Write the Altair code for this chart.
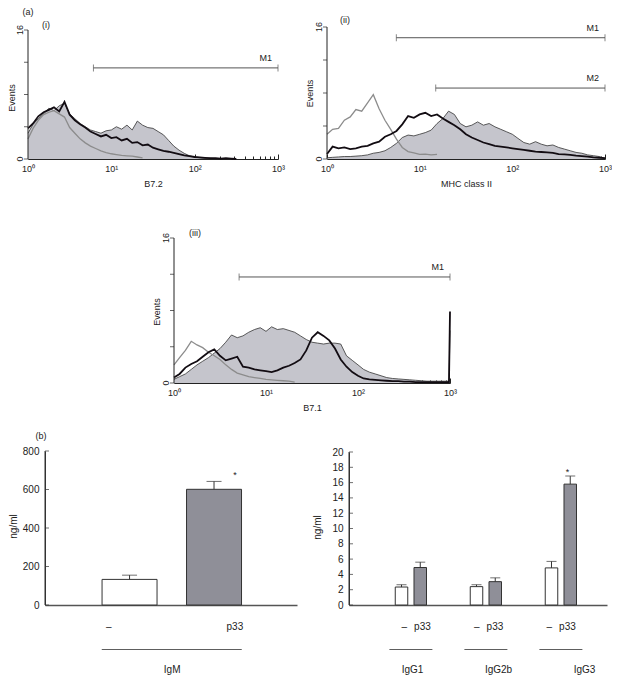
import altair as alt
import pandas as pd

FONT = "Liberation Sans"
INK = "#222222"
FILL_C = "#c5c5cc"
OUTLINE_C = "#333333"
GRAY_C = "#8c8c8c"
BLACK_C = "#120c12"
BAR_GRAY = "#8f8f98"

# ---------------- histogram data (fluorescence intensity bins, events) ----------------
HIST_X = [1.0, 1.15, 1.33, 1.54, 1.78, 2.05, 2.37, 2.74, 3.16, 3.65, 4.22, 4.87, 5.62, 6.49, 7.5, 8.66,
          10, 11.5, 13.3, 15.4, 17.8, 20.5, 23.7, 27.4, 31.6, 36.5, 42.2, 48.7, 56.2, 64.9, 75, 86.6,
          100, 115, 133, 154, 178, 205, 237, 274, 316, 365, 422, 487, 562, 649, 750, 866, 1000]
HIST_X_III = HIST_X[:48] + [975, 1000]

MAJOR = [1, 10, 100, 1000]
MINOR = [2, 3, 4, 5, 6, 7, 8, 9, 20, 30, 40, 50, 60, 70, 80, 90, 200, 300, 400, 500, 600, 700, 800, 900]
HIST_YTICKS = [0, 4, 8, 12, 16]
HIST_YLABEL_VALUES = [0, 16]
HIST_YLABELS = ["0", "16"]

# (i) B7.2
I_FILL = [3.2, 4.3, 5.0, 5.6, 6.3, 6.0, 6.6, 6.9, 5.6, 5.0, 4.4, 4.0, 3.6, 3.4, 3.2, 3.5, 3.6, 4.0, 3.7, 4.2,
          3.6, 4.7, 4.2, 3.9, 3.8, 3.4, 3.0, 2.3, 1.6, 1.1, 0.7, 0.4, 0.25, 0.15, 0.1, 0.08, 0.05, 0.05, 0.03, 0.0]
I_BLACK = [3.8, 4.4, 5.3, 5.8, 6.1, 6.4, 5.9, 7.1, 5.5, 4.8, 4.3, 3.9, 3.4, 3.1, 2.8, 3.0, 2.6, 2.7, 2.3, 2.5,
           2.0, 2.1, 1.7, 1.8, 1.4, 1.2, 1.0, 0.9, 0.75, 0.6, 0.45, 0.35, 0.25, 0.2, 0.15, 0.1, 0.1, 0.05, 0.1, 0.05, 0.0]
I_GRAY = [2.5, 3.8, 4.8, 5.5, 5.8, 6.0, 5.6, 5.2, 3.9, 3.2, 2.5, 2.0, 1.6, 1.3, 1.0, 0.8, 0.65, 0.55, 0.45, 0.4,
          0.35, 0.25, 0.15]

# (ii) MHC class II
II_FILL = [0.15, 0.2, 0.25, 0.3, 0.3, 0.35, 0.4, 0.5, 0.7, 0.8, 1.0, 1.4, 1.9, 2.6, 2.9, 2.8, 3.0, 3.2, 3.5, 4.3,
           4.9, 5.8, 5.4, 4.3, 3.9, 4.1, 4.5, 4.1, 4.3, 3.9, 3.6, 3.3, 3.0, 2.5, 2.0, 1.8, 2.1, 1.8, 1.6, 1.7,
           1.4, 1.2, 1.0, 0.8, 0.7, 0.5, 0.4, 0.3, 0.05]
II_BLACK = [0.6, 1.5, 1.3, 1.4, 1.2, 1.3, 1.5, 1.6, 1.9, 2.1, 2.7, 3.0, 3.4, 4.2, 5.2, 5.0, 5.4, 5.6, 5.2, 5.4,
            4.9, 4.5, 4.1, 3.6, 3.0, 2.6, 2.3, 2.0, 1.8, 1.6, 1.5, 1.4, 1.3, 1.2, 1.1, 1.0, 0.9, 0.85, 0.8, 0.75,
            0.6, 0.55, 0.5, 0.4, 0.35, 0.3, 0.2, 0.15, 0.1]
II_GRAY = [3.0, 3.6, 3.7, 4.7, 5.1, 6.0, 5.8, 6.8, 7.8, 6.1, 4.7, 3.6, 2.4, 1.4, 0.9, 0.75, 0.55, 0.6, 0.5, 0.55]

# (iii) B7.1
III_FILL = [0.4, 0.7, 1.0, 1.5, 2.0, 2.4, 2.8, 3.3, 3.8, 4.5, 5.3, 5.0, 5.2, 5.6, 5.9, 6.1, 5.7, 6.2, 5.9, 6.0,
            5.8, 5.6, 5.2, 4.8, 4.5, 4.4, 4.3, 4.4, 4.4, 4.3, 3.0, 2.5, 2.0, 1.5, 1.2, 1.0, 0.8, 0.6, 0.5, 0.45,
            0.4, 0.35, 0.3, 0.25, 0.2, 0.2, 0.2, 0.2, 0.2, 5.8]
III_BLACK = [0.6, 1.0, 1.7, 2.1, 2.4, 2.9, 3.4, 3.7, 3.0, 2.5, 2.7, 2.9, 1.8, 1.7, 1.5, 1.4, 1.3, 1.2, 1.4, 1.7,
             1.9, 2.2, 2.6, 3.6, 5.0, 5.6, 5.2, 4.7, 3.8, 2.6, 1.8, 1.2, 0.8, 0.5, 0.4, 0.35, 0.3, 0.25, 0.2, 0.2,
             0.15, 0.15, 0.1, 0.1, 0.1, 0.1, 0.1, 0.1, 0.1, 7.9]
III_GRAY = [2.0, 2.8, 3.6, 4.6, 4.2, 3.9, 3.4, 3.0, 2.6, 2.0, 1.5, 1.1, 0.9, 0.7, 0.6, 0.5, 0.4, 0.35, 0.3, 0.25,
            0.2, 0.1]

# marker gates
MK_END = 1000
I_MK = (["M1"], [6.1], [11.3])
II_MK = (["M1", "M2"], [5.6, 14.9], [14.7, 8.6])
III_MK = (["M1"], [5.1], [11.7])

# ---------------- bar data ----------------
IGM_TREAT = ["–", "p33"]
IGM_MEAN = [133, 601]
IGM_ERR = [155, 642]
IGM_SIG = [False, True]

IGG_GROUPS = ["IgG1", "IgG2b", "IgG3"]
IGG_CTRL_MEAN = [2.35, 2.4, 4.85]
IGG_CTRL_ERR = [2.65, 2.65, 5.7]
IGG_P33_MEAN = [4.9, 3.05, 15.8]
IGG_P33_ERR = [5.6, 3.55, 16.85]
IGG_SIG = [False, False, True]

SUP_EXPR = ("datum.value == 1 ? '10\u2070' : datum.value == 10 ? '10\u00b9' : "
            "datum.value == 100 ? '10\u00b2' : '10\u00b3'")


def curve(xs, ys):
    return pd.DataFrame({"fl": xs[:len(ys)], "ev": ys})


def one(txt):
    return pd.DataFrame({"t": [txt]})


def hist_panel(xs, fill, black, gray, mk, xtitle, W, H, xr, yr, t_dx, t_dy, tags):
    xsc = alt.Scale(type="log", domain=[1, 1000], range=xr, nice=False)
    ysc = alt.Scale(domain=[0, 16], range=yr, nice=False)
    xoff = yr[0] - H
    ax_main = alt.Axis(orient="bottom", offset=xoff, values=MAJOR, labelExpr=SUP_EXPR,
                       ticks=False, tickSize=0, labelPadding=5, labelFlush=False, labelOverlap=False,
                       labelFont=FONT, labelFontSize=9, labelColor=INK, domainColor=INK, domainWidth=1,
                       grid=False, title=xtitle, titleFont=FONT, titleFontSize=9, titleFontWeight="normal",
                       titleColor=INK, titleY=24, titleBaseline="middle")
    ax_major = alt.Axis(orient="bottom", offset=xoff - 5, values=MAJOR, domain=False, labels=False,
                        tickSize=5, tickColor=INK, tickWidth=1, grid=False, title=None)
    ax_minor = alt.Axis(orient="bottom", offset=xoff - 3, values=MINOR, domain=False, labels=False,
                        tickSize=3, tickColor=INK, tickWidth=1, grid=False, title=None)

    def Y(f):
        return alt.Y(f, scale=ysc, axis=None)

    xd = alt.XDatum(1, type="quantitative", scale=xsc, axis=None)

    df_fill, df_black, df_gray = curve(xs, fill), curve(xs, black), curve(xs, gray)
    area = alt.Chart(df_fill).mark_area(color=FILL_C, opacity=1).encode(
        x=alt.X("fl:Q", scale=xsc, axis=ax_main), y=Y("ev:Q"))
    outline = alt.Chart(df_fill).mark_line(color=OUTLINE_C, strokeWidth=0.8).encode(
        x=alt.X("fl:Q", scale=xsc, axis=ax_major), y=Y("ev:Q"))
    gline = alt.Chart(df_gray).mark_line(color=GRAY_C, strokeWidth=1.3).encode(
        x=alt.X("fl:Q", scale=xsc, axis=ax_minor), y=Y("ev:Q"))
    bline = alt.Chart(df_black).mark_line(color=BLACK_C, strokeWidth=1.8).encode(
        x=alt.X("fl:Q", scale=xsc, axis=None), y=Y("ev:Q"))

    # y axis built from marks on the same scales
    ydom = alt.Chart(one("")).mark_rule(color=INK, strokeWidth=1).encode(
        x=xd, y=alt.YDatum(0, type="quantitative", scale=ysc, axis=None), y2=alt.Y2Datum(16))
    yticks = alt.Chart(pd.DataFrame({"v": HIST_YTICKS})).mark_tick(
        orient="horizontal", size=4, thickness=1, color=INK, xOffset=-2).encode(x=xd, y=Y("v:Q"))
    ylabs = alt.Chart(pd.DataFrame({"v": HIST_YLABEL_VALUES, "t": HIST_YLABELS})).mark_text(
        angle=270, align="center", baseline="alphabetic", xOffset=-5.5, font=FONT, fontSize=9,
        color=INK).encode(x=xd, y=Y("v:Q"), text="t:N")
    ytitle = alt.Chart(one("Events")).mark_text(
        angle=270, align="center", baseline="middle", xOffset=t_dx, yOffset=t_dy, font=FONT, fontSize=9,
        color=INK).encode(x=xd, y=alt.YDatum(8, type="quantitative", scale=ysc, axis=None), text="t:N")

    mdf = pd.DataFrame({"label": mk[0], "x1": mk[1], "x2": [MK_END] * len(mk[0]), "y": mk[2]})
    base = alt.Chart(mdf)
    rule = base.mark_rule(color="#555555", strokeWidth=1).encode(
        x=alt.X("x1:Q", scale=xsc, axis=None), x2="x2:Q", y=Y("y:Q"))
    ends = base.transform_fold(["x1", "x2"], as_=["end", "xe"]).mark_tick(
        orient="vertical", size=7, thickness=1, color="#555555").encode(
        x=alt.X("xe:Q", scale=xsc, axis=None), y=Y("y:Q"))
    mlab = base.mark_text(align="right", baseline="middle", dx=-6, dy=-10, font=FONT, fontSize=9,
                          color=INK).encode(
        x=alt.X("x2:Q", scale=xsc, axis=None), y=Y("y:Q"), text="label:N")

    layers = [area, outline, gline, bline, ydom, yticks, ylabs, ytitle, rule, ends, mlab]
    for txt, dx, dy in tags:
        layers.append(alt.Chart(one(txt)).mark_text(
            dx=dx, dy=dy, align="center", baseline="middle", font=FONT, fontSize=9, color=INK).encode(
            x=xd, y=alt.YDatum(16, type="quantitative", scale=ysc, axis=None), text="t:N"))
    return alt.layer(*layers).resolve_axis(x="independent").properties(width=W, height=H)


def bar_panel(df, sub_domain, sub_p, groups, grp_p, W, H, xr, yr, ymax, yvals, tx, ty,
              cap, ul, star_dy, tag=None):
    sub_sc = alt.Scale(domain=sub_domain, range=sub_p[3], paddingInner=sub_p[0], paddingOuter=sub_p[1],
                       align=sub_p[2])
    grp_sc = alt.Scale(domain=groups, range=xr, paddingInner=0, paddingOuter=grp_p[0], align=grp_p[1])
    frame_sc = alt.Scale(domain=[0, 1], range=xr, nice=False, zero=False)
    ysc = alt.Scale(domain=[0, ymax], range=yr, nice=False)
    ax_x = alt.Axis(orient="bottom", offset=yr[0] - H, domain=True, domainColor="#555555",
                    domainWidth=1.3, ticks=False, labels=False, title=None, grid=False)
    ay_main = alt.Axis(orient="left", offset=-xr[0], values=yvals, ticks=False, tickSize=0,
                       labelPadding=6, labelFont=FONT, labelFontSize=10, labelColor=INK,
                       domainColor="#333333", domainWidth=1, grid=False,
                       title="ng/ml", titleX=tx, titleY=ty, titleAngle=270, titleAlign="center",
                       titleBaseline="middle", titleFont=FONT, titleFontSize=10, titleFontWeight="normal",
                       titleColor=INK)

    xs = lambda: alt.X("sub:N", scale=sub_sc, axis=None)
    xf = alt.XDatum(0, type="quantitative", scale=frame_sc, axis=None)
    bars = alt.Chart(df).mark_bar(stroke="#333333", strokeWidth=1).encode(
        x=xs(), y=alt.Y("val:Q", scale=ysc, axis=ay_main),
        fill=alt.Fill("treat:N", scale=alt.Scale(domain=IGM_TREAT, range=["#ffffff", BAR_GRAY]),
                      legend=None))
    ydom = alt.Chart(one("")).mark_rule(color="#333333", strokeWidth=1).encode(
        x=xf, y=alt.YDatum(0, type="quantitative", scale=ysc, axis=None), y2=alt.Y2Datum(ymax))
    yticks = alt.Chart(pd.DataFrame({"v": yvals})).mark_tick(
        orient="horizontal", size=4, thickness=1, color="#333333", xOffset=2).encode(
        x=xf, y=alt.Y("v:Q", scale=ysc, axis=None))
    err = alt.Chart(df).mark_rule(color="#333333", strokeWidth=1).encode(
        x=xs(), y=alt.Y("val:Q", scale=ysc, axis=None), y2="err:Q")
    caps = alt.Chart(df).mark_tick(orient="horizontal", size=cap, thickness=1, color="#333333").encode(
        x=xs(), y=alt.Y("err:Q", scale=ysc, axis=None))
    stars = alt.Chart(df).transform_filter("datum.sig").mark_text(
        text="*", font=FONT, fontSize=9, dy=star_dy, baseline="middle", color=INK).encode(
        x=xs(), y=alt.Y("err:Q", scale=ysc, axis=None))
    tlab = alt.Chart(df).mark_text(dy=22, baseline="middle", font=FONT, fontSize=10, color=INK).encode(
        x=xs(), y=alt.YDatum(0, type="quantitative", scale=ysc, axis=None), text="treat:N")
    gdf = pd.DataFrame({"grp": groups})
    ulines = alt.Chart(gdf).mark_tick(orient="horizontal", size=ul, thickness=1.1, color="#1a1a1a",
                                      yOffset=44.5).encode(
        x=alt.X("grp:N", scale=grp_sc, axis=ax_x),
        y=alt.YDatum(0, type="quantitative", scale=ysc, axis=None))
    glab = alt.Chart(gdf).mark_text(dy=65, baseline="middle", font=FONT, fontSize=10, color=INK).encode(
        x=alt.X("grp:N", scale=grp_sc, axis=None),
        y=alt.YDatum(0, type="quantitative", scale=ysc, axis=None), text="grp:N")
    layers = [ulines, bars, ydom, yticks, err, caps, stars, tlab, glab]
    if tag is not None:
        txt, cat, dx, dy = tag
        layers.append(alt.Chart(one(txt)).mark_text(
            dx=dx, dy=dy, align="center", baseline="middle", font=FONT, fontSize=9, color=INK).encode(
            x=alt.XDatum(cat, type="nominal", scale=sub_sc, axis=None),
            y=alt.YDatum(ymax, type="quantitative", scale=ysc, axis=None), text="t:N"))
    return (alt.layer(*layers)
            .resolve_scale(x="independent")
            .resolve_axis(x="independent", y="independent")
            .properties(width=W, height=H))


# ---------------- panels ----------------
p1 = hist_panel(HIST_X, I_FILL, I_BLACK, I_GRAY, I_MK, "B7.2", 300, 190, [20, 270], [151, 22], -16, 3.5,
                [("(a)", 0, -18), ("(i)", 18, -5)])
p2 = hist_panel(HIST_X, II_FILL, II_BLACK, II_GRAY, II_MK, "MHC class II", 304, 190, [19, 297], [151, 19],
                -17, 0.5, [("(ii)", 18, -7)])
p3 = hist_panel(HIST_X_III, III_FILL, III_BLACK, III_GRAY, III_MK, "B7.1", 604, 220, [166, 442], [185, 40],
                -17, 1.5, [("(iii)", 21, -5.5)])

igm = pd.DataFrame({"sub": IGM_TREAT, "treat": IGM_TREAT, "val": IGM_MEAN, "err": IGM_ERR, "sig": IGM_SIG})
rows = []
for g, cm, ce, pm, pe, s in zip(IGG_GROUPS, IGG_CTRL_MEAN, IGG_CTRL_ERR, IGG_P33_MEAN, IGG_P33_ERR, IGG_SIG):
    rows.append({"sub": g + " –", "treat": "–", "val": cm, "err": ce, "sig": False})
    rows.append({"sub": g + " p33", "treat": "p33", "val": pm, "err": pe, "sig": s})
igg = pd.DataFrame(rows)
SUB_R = []
for i, g in enumerate(IGG_GROUPS):
    SUB_R += [g + " –", g + " p33"]
    if i < len(IGG_GROUPS) - 1:
        SUB_R += ["gap%da" % i, "gap%db" % i]

b1 = bar_panel(igm, IGM_TREAT, (0.349, 0.666, 0.507, [37, 289]), ["IgM"], (1.0, 0.5045), 305, 260,
               [37, 289], [187, 33], 800, [0, 200, 400, 600, 800], -32, 108, 15, 140, -6,
               tag=("(b)", "–", -68, -15))
b2 = bar_panel(igg, SUB_R, (0.3333, 0.0, 0.5, [82.25, 263.5]), IGG_GROUPS, (0.22, 0.739), 299, 260,
               [36, 294], [187, 34], 20, list(range(0, 21, 2)), -32, 109, 10, 43, -4)

row1 = alt.hconcat(p1, p2, spacing=0, bounds="flush")
row3 = alt.hconcat(b1, b2, spacing=0, bounds="flush")
chart = (alt.vconcat(row1, p3, row3, spacing=0, bounds="full")
         .properties(padding=0)
         .configure(font=FONT)
         .configure_view(stroke=None))

chart.save("out.html", embed_options={"renderer": "svg", "actions": False})
